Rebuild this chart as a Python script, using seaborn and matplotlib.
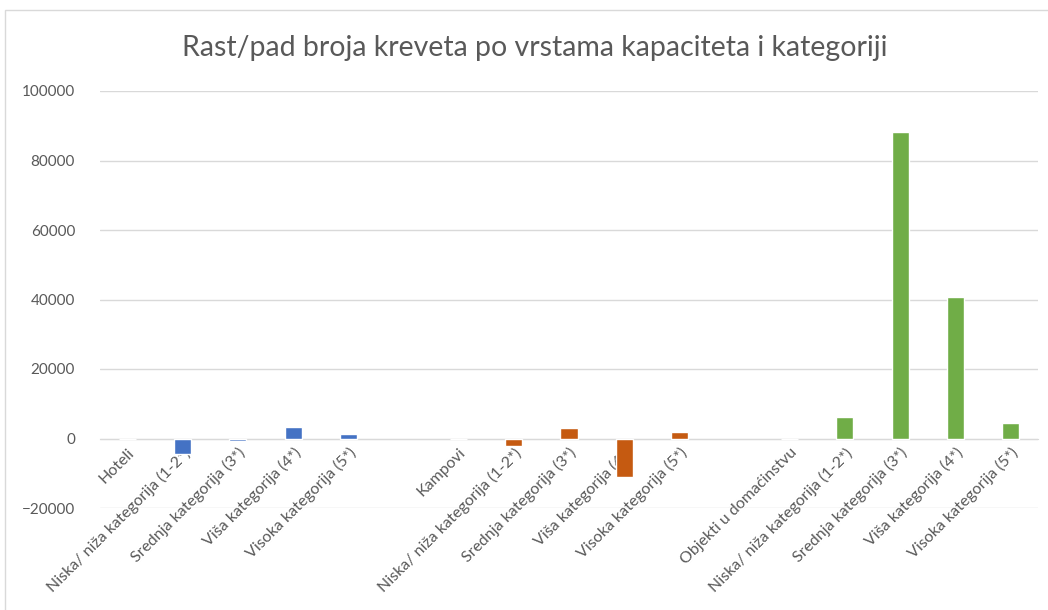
"""
Rast/pad broja kreveta po vrstama kapaciteta i kategoriji
"""

import pandas as pd
import numpy as np
import matplotlib.pyplot as plt
import seaborn as sns
from matplotlib.patches import Rectangle

# Data
groups = ["Hoteli", "Kampovi", "Objekti u domaćinstvu"]
subcats = [
    "Niska/ niža kategorija (1-2*)",
    "Srednja kategorija (3*)",
    "Viša kategorija (4*)",
    "Visoka kategorija (5*)",
]
hoteli = [0, -4600, -800, 3400, 1200]
kampovi = [0, -2300, 3100, -11200, 2000]
objekti = [0, 6300, 88200, 40800, 4600]

colors = {"Hoteli": "#4472C4", "Kampovi": "#C55A11", "Objekti u domaćinstvu": "#70AD47"}
TEXT = "#595959"
GRID = "#D9D9D9"


def build_frame():
    """One row per slot on the x axis, empty slot between groups"""
    rows, labels = [], []
    for gi, (grp, vals) in enumerate(zip(groups, [hoteli, kampovi, objekti])):
        if gi > 0:
            rows.append({"slot": f"s{len(labels)}", "value": np.nan, "group": grp})
            labels.append("")
        for name, v in zip([grp] + subcats, vals):
            rows.append({"slot": f"s{len(labels)}", "value": v, "group": grp})
            labels.append(name)
    return pd.DataFrame(rows), labels


def main():
    df, labels = build_frame()

    sns.set_style("white")
    plt.rcParams["font.family"] = ["Lato", "DejaVu Sans"]

    fig = plt.figure(figsize=(10.48, 6.10), dpi=100)
    ax = fig.add_axes([100 / 1048, 1 - 508 / 610, 938 / 1048, 417 / 610])

    sns.barplot(data=df, x="slot", y="value", hue="group", order=list(df["slot"]),
                palette=colors, saturation=1, dodge=False, width=0.31,
                legend=False, ax=ax, zorder=3)

    ax.set_ylim(-20000, 100000)
    ax.set_yticks(np.arange(-20000, 100001, 20000))
    ax.grid(axis="y", color=GRID, linewidth=1, zorder=0)
    ax.set_axisbelow(True)

    for side in ["top", "right", "left"]:
        ax.spines[side].set_visible(False)
    ax.spines["bottom"].set_position(("data", 0))
    ax.spines["bottom"].set_color(GRID)

    ax.set_xticks(range(len(labels)))
    ax.set_xticklabels(labels, rotation=45, ha="right", rotation_mode="anchor",
                       fontsize=11.5, color=TEXT)
    ax.tick_params(axis="x", length=0, pad=5)
    ax.tick_params(axis="y", length=0, pad=18, labelsize=11, labelcolor=TEXT)
    ax.set_xlabel("")
    ax.set_ylabel("")

    fig.text(535 / 1048, 1 - 48 / 610, "Rast/pad broja kreveta po vrstama kapaciteta i kategoriji",
             ha="center", va="center", fontsize=20.5, color=TEXT)

    # chart frame
    fig.patches.append(Rectangle((5 / 1048, -0.01), 1.0, 1 - 10 / 610 + 0.01,
                                 transform=fig.transFigure, fill=False,
                                 edgecolor=GRID, linewidth=1))

    fig.savefig("out.png", dpi=100, facecolor="white")
    plt.close(fig)


if __name__ == "__main__":
    main()
